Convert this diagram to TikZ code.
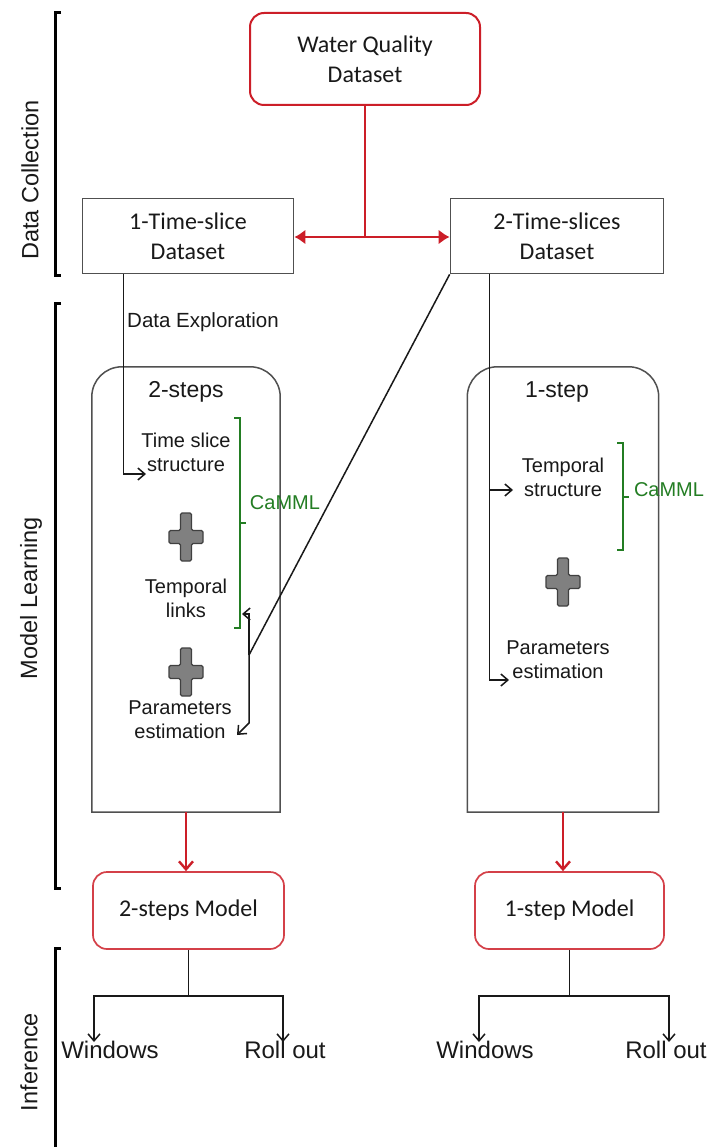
\documentclass[tikz,border=0pt]{standalone}
\usepackage{fontspec}
\setmainfont{Liberation Sans}
\newfontfamily\calibrifont{Carlito}
\usetikzlibrary{arrows.meta,calc}
\definecolor{mred}{RGB}{204,30,40}
\definecolor{mgreen}{RGB}{35,125,35}
\definecolor{ink}{RGB}{25,25,25}
\definecolor{frame}{RGB}{80,80,80}
\tikzset{
  redbox/.style={draw=mred, line width=2pt, rounded corners=14pt, fill=white,
    font=\calibrifont\fontsize{24}{30}\selectfont, align=center, text=ink, inner sep=0pt},
  blackbox/.style={draw=frame, line width=1.7pt, fill=white,
    font=\calibrifont\fontsize{24}{30}\selectfont, align=center, text=ink, inner sep=0pt},
  stepframe/.style={draw=frame, line width=1.5pt},
  lbl/.style={font=\fontsize{20}{24}\selectfont, align=center, text=ink, inner sep=0pt},
  head/.style={font=\fontsize{23}{27}\selectfont, text=ink, inner sep=0pt},
  side/.style={font=\fontsize{23.5}{28}\selectfont, text=ink, rotate=90, inner sep=0pt},
  camml/.style={font=\fontsize{20}{24}\selectfont, text=mgreen, inner sep=0pt},
  blk/.style={draw=ink, line width=1.5pt},
  barb/.style={-{Straight Barb[length=7pt,width=12pt,line width=1.5pt]}},
  redline/.style={draw=mred, line width=2.7pt},
  redbarb/.style={-{Straight Barb[length=8pt,width=14pt,line width=2.4pt]}},
  brace/.style={draw=black, line width=3pt},
  gbrace/.style={draw=mgreen, line width=2.5pt},
  plussign/.pic={\path[draw=black!75, fill=black!50, line width=1.2pt, rounded corners=1.5pt]
    (-5.5,-24) -- (5.5,-24) -- (5.5,-6.5) -- (17,-6.5) -- (17,6.5) -- (5.5,6.5)
    -- (5.5,24) -- (-5.5,24) -- (-5.5,6.5) -- (-17,6.5) -- (-17,-6.5) -- (-5.5,-6.5) -- cycle;}
}
\begin{document}
\begin{tikzpicture}[x=1pt,y=-1pt]
\fill[white] (0,0) rectangle (708,1147);
\useasboundingbox (0,0) rectangle (708,1147);

% side brackets and labels
\draw[brace] (61,13) -- (55,13) -- (55,276) -- (61,276);
\draw[brace] (61,303) -- (55,303) -- (55,888) -- (61,888);
\draw[brace] (61,948) -- (55,948) -- (55,1147);
\node[side] (ldc) at (30,180) {Data Collection};
\node[side] (lml) at (31,598) {Model Learning};
\node[side] (lin) at (29,1062) {Inference};

% data collection
\node[redbox, minimum width=230pt, minimum height=92pt] (wq) at (365,59) {Water Quality\\Dataset};
\node[blackbox, minimum width=211pt, minimum height=75pt] (ts1) at (188,236) {1-Time-slice\\Dataset};
\node[blackbox, minimum width=213pt, minimum height=75pt] (ts2) at (557,236) {2-Time-slices\\Dataset};
\coordinate (rj) at (365,237);
\draw[redline] (wq.south) -- (rj);
\draw[redline, {Latex[length=11pt,width=15pt]}-{Latex[length=11pt,width=15pt]}] (ts1.east |- rj) -- (ts2.west |- rj);

% step frames
\node[minimum width=188pt, minimum height=445pt, inner sep=0pt] (s2) at (186,589.5) {};
\node[minimum width=191pt, minimum height=445pt, inner sep=0pt] (s1) at (563,589.5) {};
\draw[stepframe] (s2.south west) [rounded corners=30pt] -- (s2.north west) -- (s2.north east) [sharp corners] -- (s2.south east) -- cycle;
\draw[stepframe] (s1.south west) [rounded corners=30pt] -- (s1.north west) -- (s1.north east) [sharp corners] -- (s1.south east) -- cycle;
\node[head] (h2) at (186,392) {2-steps};
\node[head] (h1) at (557,392) {1-step};

% 2-steps content
\node[lbl] (tss) at (186,452) {Time slice\\structure};
\pic at (186,537) {plussign};
\node[lbl] (tl) at (186,598) {Temporal\\links};
\pic at (186,672) {plussign};
\node[lbl] (pe2) at (180,720) {Parameters\\estimation};
\draw[gbrace] (234,418) -- (240,418) -- (240,628) -- (234,628);
\draw[gbrace] (240,523) -- (246,523);
\node[camml] (cm2) at (285,503) {CaMML};

% 1-step content
\node[lbl] (tps) at (563,477) {Temporal\\structure};
\pic at (563,582) {plussign};
\node[lbl] (pe1) at (558,660) {Parameters\\estimation};
\draw[gbrace] (617,443) -- (623,443) -- (623,550) -- (617,550);
\draw[gbrace] (623,497) -- (629,497);
\node[camml] (cm1) at (669,490) {CaMML};

% black connectors
\node[lbl, anchor=west, font=\fontsize{20.5}{24}\selectfont] (dexp) at (127,322) {Data Exploration};
\coordinate (t1) at (146,474);
\draw[blk, barb] ([xshift=42pt]ts1.south west) |- (t1);
\coordinate (jn) at (249,655);
\coordinate (t2) at (242,614);
\coordinate (k2) at (249,723);
\coordinate (t3) at (237,735);
\draw[blk] (ts2.south west) -- (jn);
\draw[blk, barb] (jn) |- (t2);
\draw[blk, barb] (jn) -- (k2) -- (t3);
\coordinate (t4) at (513,490);
\coordinate (t5) at (509,680);
\draw[blk, barb] ([xshift=40pt]ts2.south west) |- (t4);
\draw[blk, barb] ([xshift=40pt]ts2.south west) |- (t5);

% models
\node[redbox, draw=mred!85, line width=1.7pt, minimum width=191pt, minimum height=77pt] (m2) at (188.5,910.5) {2-steps Model};
\node[redbox, draw=mred!85, line width=1.7pt, minimum width=189pt, minimum height=77pt] (m1) at (569.5,910.5) {1-step Model};
\draw[redline, redbarb] (s2.south) -- (s2.south |- m2.north);
\draw[redline, redbarb] (s1.south) -- (s1.south |- m1.north);

% inference
\coordinate (b2) at ($(m2.south)+(0,46)$);
\coordinate (b1) at ($(m1.south)+(0,46)$);
\coordinate (aw2) at (94,1042);
\coordinate (ar2) at (283,1042);
\coordinate (aw1) at (479,1042);
\coordinate (ar1) at (669,1042);
\draw[blk, barb] (m2.south) -- (b2) -| (aw2);
\draw[blk, barb] (b2) -| (ar2);
\draw[blk, barb] (m1.south) -- (b1) -| (aw1);
\draw[blk, barb] (b1) -| (ar1);
\node[font=\fontsize{24}{28}\selectfont, text=ink, inner sep=0pt] (w2) at (110,1050) {Windows};
\node[font=\fontsize{24}{28}\selectfont, text=ink, inner sep=0pt] (r2) at (285,1050) {Roll out};
\node[font=\fontsize{24}{28}\selectfont, text=ink, inner sep=0pt] (w1) at (485,1050) {Windows};
\node[font=\fontsize{24}{28}\selectfont, text=ink, inner sep=0pt] (r1) at (666,1050) {Roll out};
\end{tikzpicture}
\end{document}
